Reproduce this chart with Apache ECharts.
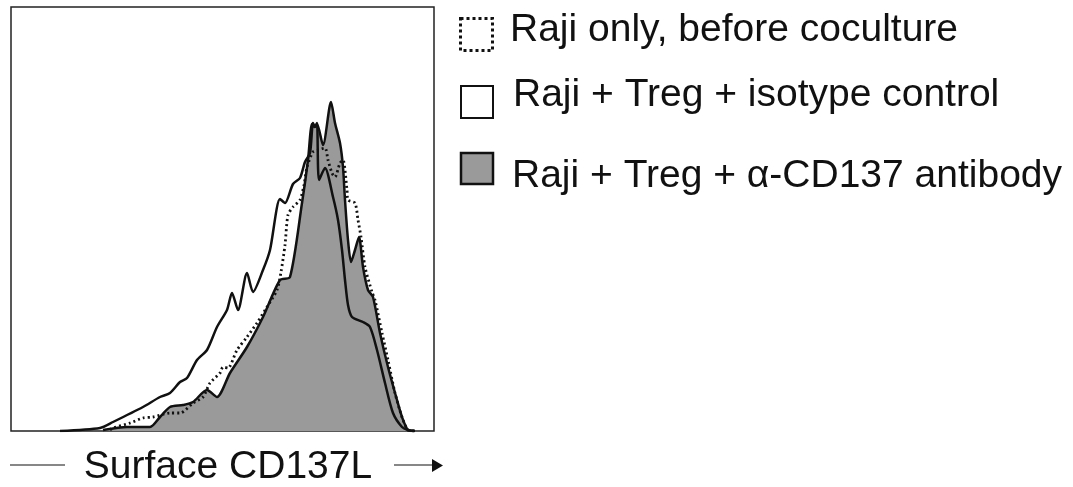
<!DOCTYPE html>
<html>
<head>
<meta charset="utf-8">
<title>Surface CD137L</title>
<script src="https://cdn.jsdelivr.net/npm/echarts@6/dist/echarts.min.js"></script>
<style>
    html, body {margin: 0; padding: 0; background: #fff;}
    #main {width: 1073px; height: 487px;}
</style>
</head>
<body>
<div id="main"></div>
<script>
// histogram outlines (fluorescence channel, event count)
var rajiX = [99, 102, 119, 132, 142, 159, 169, 182, 192, 199, 209, 212, 217, 226, 236, 246, 256, 266, 270, 274,
    277, 282, 289, 293, 296, 302, 307, 314, 317, 321, 324, 329, 332, 336, 337, 344, 347, 350, 354, 361,
    364, 371, 377, 384, 391, 397, 403];
var rajiY = [1, 3, 8, 13, 14, 18, 18, 28, 34, 48, 58, 64, 63, 81, 94, 108, 124, 141, 159, 186,
    216, 224, 231, 246, 264, 279, 281, 283, 271, 258, 254, 268, 271, 241, 231, 228, 211, 194, 164, 139,
    131, 98, 71, 38, 14, 1, 0];

var isoX = [49, 89, 102, 132, 149, 159, 169, 176, 186, 196, 206, 216, 221, 227, 236, 242, 252, 259, 269, 274,
    282, 289, 294, 299, 302, 304, 306, 308, 314, 322, 327, 331, 334, 337, 341, 352, 359, 366, 374, 382,
    391, 397, 404];
var isoY = [0, 3, 9, 24, 34, 38, 49, 53, 71, 81, 104, 121, 138, 121, 158, 139, 161, 181, 232, 228,
    247, 253, 269, 278, 308, 304, 308, 251, 263, 234, 211, 181, 151, 126, 114, 109, 104, 81, 48, 18,
    4, 1, 0];

var abX = [92, 116, 139, 149, 159, 172, 182, 196, 206, 219, 236, 252, 269, 279, 291, 297, 301, 303.5, 306, 312,
    320, 324, 329, 332, 334, 337, 340, 344, 348, 352, 357, 362, 369, 377, 386, 391, 397, 404];
var abY = [1, 4, 4, 14, 24, 26, 29, 41, 34, 58, 84, 114, 151, 154, 228, 271, 307, 304, 307, 286,
    329, 308, 288, 264, 231, 191, 169, 181, 194, 164, 141, 134, 98, 64, 31, 14, 1, 0];

var names = ['Raji only, before coculture', 'Raji + Treg + isotype control', 'Raji + Treg + α-CD137 antibody'];

function pairs(xs, ys) {
    var out = [];
    for (var i = 0; i < xs.length; i++) {
        out.push([xs[i], ys[i]]);
    }
    return out;
}

var font = '39px "Liberation Sans", Arial, sans-serif';
var ink = '#111';

var chart = echarts.init(document.getElementById('main'));
chart.setOption({
    animation: false,
    backgroundColor: '#fff',
    grid: {
        left: 11, right: 639, top: 7, bottom: 56,
        containLabel: false, outerBoundsMode: 'none',
        show: true, borderColor: '#222', borderWidth: 1.5, backgroundColor: '#fff'
    },
    xAxis: {
        type: 'value', min: 0, max: 423,
        axisLine: {show: false}, axisTick: {show: false}, axisLabel: {show: false}, splitLine: {show: false},
        name: 'Surface CD137L', nameLocation: 'middle', nameGap: 36,
        nameTextStyle: {
            fontFamily: '"Liberation Sans", Arial, sans-serif', fontSize: 39, color: ink,
            verticalAlign: 'middle', padding: [0, 0, 0, 11]
        }
    },
    yAxis: {
        type: 'value', min: 0, max: 424,
        axisLine: {show: false}, axisTick: {show: false}, axisLabel: {show: false}, splitLine: {show: false}
    },
    series: [
        {
            name: names[2], type: 'line', symbol: 'none', smooth: 0.25,
            data: pairs(abX, abY),
            lineStyle: {color: ink, width: 2.5},
            areaStyle: {color: '#9a9a9a', opacity: 1}
        },
        {
            name: names[1], type: 'line', symbol: 'none', smooth: 0.25,
            data: pairs(isoX, isoY),
            lineStyle: {color: ink, width: 2.5}
        },
        {
            name: names[0], type: 'line', symbol: 'none', smooth: 0.25,
            data: pairs(rajiX, rajiY),
            lineStyle: {color: ink, width: 2.8, type: [2, 3]}
        }
    ],
    graphic: [
        // axis arrow line
        {type: 'line', shape: {x1: 10, y1: 465, x2: 65, y2: 465}, style: {stroke: ink, lineWidth: 1.2}},
        {type: 'line', shape: {x1: 394, y1: 465, x2: 433, y2: 465}, style: {stroke: ink, lineWidth: 1.2}},
        {type: 'polygon', shape: {points: [[432, 459], [443, 465.5], [432, 472]]}, style: {fill: ink}},
        // legend
        {type: 'rect', shape: {x: 460.5, y: 18.5, width: 32, height: 32},
            style: {fill: 'none', stroke: ink, lineWidth: 3, lineDash: [3, 3]}},
        {type: 'text', x: 510, y: 30, style: {text: names[0], font: font, fill: ink, verticalAlign: 'middle'}},
        {type: 'rect', shape: {x: 461, y: 86, width: 32, height: 32},
            style: {fill: '#fff', stroke: ink, lineWidth: 2}},
        {type: 'text', x: 513, y: 95, style: {text: names[1], font: font, fill: ink, verticalAlign: 'middle'}},
        {type: 'rect', shape: {x: 461, y: 153, width: 32, height: 31},
            style: {fill: '#9a9a9a', stroke: ink, lineWidth: 2.5}},
        {type: 'text', x: 512, y: 176, style: {text: names[2], font: font, fill: ink, verticalAlign: 'middle'}}
    ]
});
</script>
</body>
</html>
